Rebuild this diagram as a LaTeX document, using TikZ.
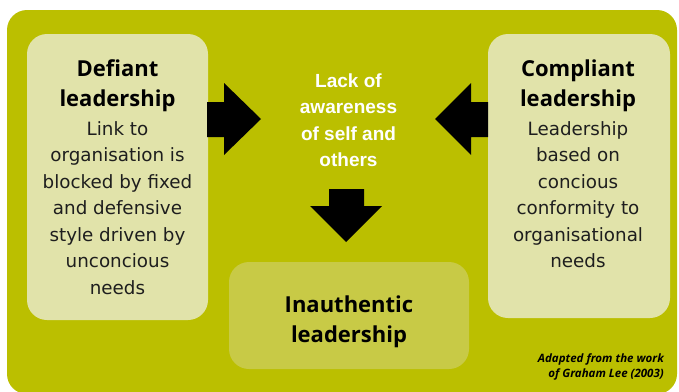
\documentclass[tikz,border=0pt]{standalone}
\usepackage{fontspec}
\setmainfont{DejaVu Sans}
\newfontfamily\ttlfont{Open Sans}
\newfontfamily\midfont{Liberation Sans}
\newfontfamily\bdyfont{DejaVu Sans}
\definecolor{bggreen}{RGB}{187,191,0}
\definecolor{lightbox}{RGB}{225,227,170}
\definecolor{midbox}{RGB}{200,202,70}
\definecolor{bodytext}{RGB}{30,30,30}
\tikzset{
  panel/.style={rounded corners=20pt, inner sep=0pt},
  ttl/.style={font=\ttlfont\bfseries\fontsize{22}{22}\selectfont, anchor=base, inner sep=0pt, text=black},
  bdy/.style={font=\bdyfont\fontsize{18.3}{18.3}\selectfont, anchor=base, inner sep=0pt, text=bodytext},
  mid/.style={font=\midfont\bfseries\fontsize{19}{19}\selectfont, anchor=base, inner sep=0pt, text=white},
  cred/.style={font=\ttlfont\bfseries\itshape\fontsize{11.5}{11.5}\selectfont, anchor=base east, inner sep=0pt, text=black},
  blockarrow/.style={fill=black}
}
\begin{document}
\begin{tikzpicture}[x=1pt,y=-1pt]
\useasboundingbox (0,0) rectangle (679,391);
\fill[white] (0,0) rectangle (679,391);
\fill[bggreen, rounded corners=20pt] (7,10) rectangle (677,394);
% boxes
\node[panel, fill=lightbox, minimum width=181pt, minimum height=286pt] (defiant) at (117.5,177) {};
\node[panel, fill=lightbox, minimum width=182pt, minimum height=284pt] (compliant) at (579,176) {};
\node[panel, fill=midbox, minimum width=240pt, minimum height=107pt] (inauth) at (349,315.5) {};
% arrows
\fill[blockarrow] (207,102) -- (224,102) -- (224,83) -- (261,119) -- (224,155) -- (224,137) -- (207,137) -- cycle;
\fill[blockarrow] (488,102) -- (471,102) -- (471,83) -- (435,119) -- (471,155) -- (471,137) -- (488,137) -- cycle;
\fill[blockarrow] (329,189) -- (364,189) -- (364,206) -- (382,206) -- (346,242) -- (310,206) -- (329,206) -- cycle;
% defiant text
\node[ttl] (d1) at (117.5,76) {Defiant};
\node[ttl] (d2) at (117.5,106) {leadership};
\node[bdy] (db1) at (117.5,135) {Link to};
\node[bdy] (db2) at (117.5,161.5) {organisation is};
\node[bdy] (db3) at (117.5,188) {blocked by fixed};
\node[bdy] (db4) at (117.5,214.5) {and defensive};
\node[bdy] (db5) at (117.5,241) {style driven by};
\node[bdy] (db6) at (117.5,267.5) {unconcious};
\node[bdy] (db7) at (117.5,294) {needs};
% compliant text
\node[ttl] (c1) at (578,76) {Compliant};
\node[ttl] (c2) at (578,106) {leadership};
\node[bdy] (cb1) at (578,135) {Leadership};
\node[bdy] (cb2) at (578,161.5) {based on};
\node[bdy] (cb3) at (578,188) {concious};
\node[bdy] (cb4) at (578,214.5) {conformity to};
\node[bdy] (cb5) at (578,241) {organisational};
\node[bdy] (cb6) at (578,267.5) {needs};
% middle text
\node[mid] (m1) at (348.5,87) {Lack of};
\node[mid] (m2) at (348.5,113.5) {awareness};
\node[mid] (m3) at (348.5,140) {of self and};
\node[mid] (m4) at (348.5,166.5) {others};
% inauthentic
\node[ttl] (i1) at (349,312) {Inauthentic};
\node[ttl] (i2) at (349,342) {leadership};
% credit
\node[cred] (cr1) at (664,362) {Adapted from the work};
\node[cred] (cr2) at (664,377) {of Graham Lee (2003)};
\end{tikzpicture}
\end{document}
